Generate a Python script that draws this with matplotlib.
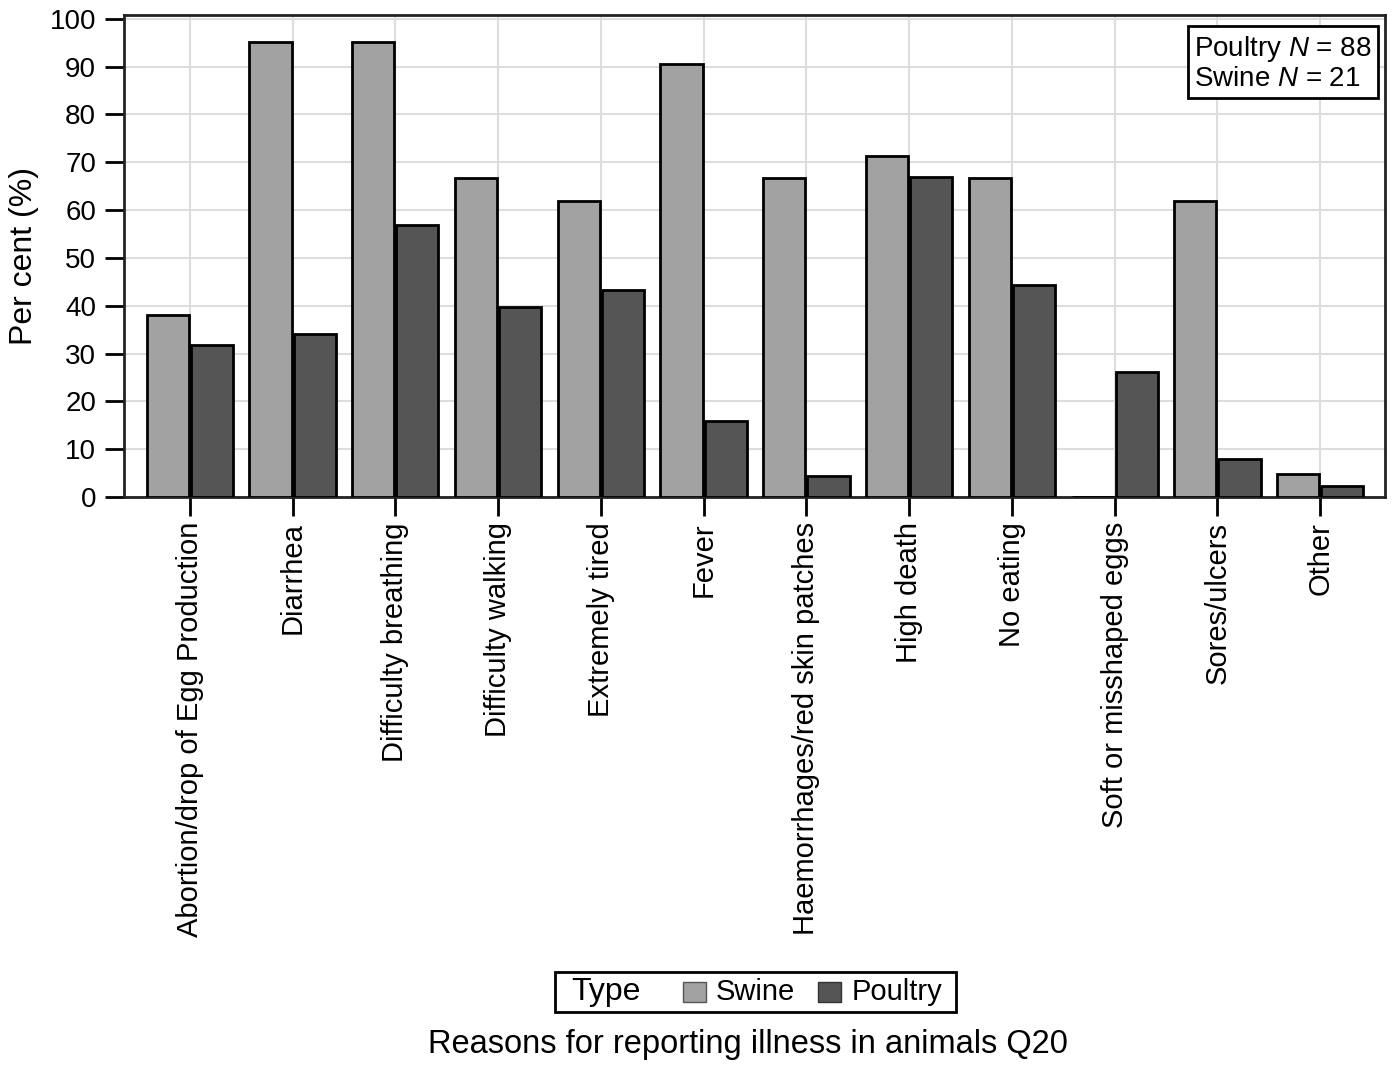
import matplotlib
matplotlib.use("Agg")
import matplotlib.pyplot as plt
import numpy as np
from matplotlib.patches import Rectangle

plt.rcParams['font.family'] = ['Liberation Sans', 'DejaVu Sans']
plt.rcParams['mathtext.fontset'] = 'custom'
plt.rcParams['mathtext.rm'] = 'Liberation Sans'
plt.rcParams['mathtext.it'] = 'Liberation Sans:italic'

categories = ["Abortion/drop of Egg Production", "Diarrhea", "Difficulty breathing",
              "Difficulty walking", "Extremely tired", "Fever",
              "Haemorrhages/red skin patches", "High death", "No eating",
              "Soft or misshaped eggs", "Sores/ulcers", "Other"]
swine = [38.1, 95.2, 95.2, 66.7, 61.9, 90.5, 66.7, 71.4, 66.7, 0.0, 61.9, 4.8]
poultry = [31.8, 34.1, 56.8, 39.8, 43.2, 15.9, 4.5, 67.0, 44.3, 26.1, 8.0, 2.3]
yticks = [0, 10, 20, 30, 40, 50, 60, 70, 80, 90, 100]

SWINE_C = '#a2a2a2'
POULTRY_C = '#555555'

W, H = 1395, 1068
fig = plt.figure(figsize=(W / 100, H / 100), dpi=100)
ax = fig.add_axes([0.0889, 0.5346, 0.9039, 0.4514])

x = np.arange(len(categories))
w = 0.41
ax.bar(x - w/2 - 0.01, swine, width=w, color=SWINE_C, edgecolor='black', linewidth=2, zorder=3)
ax.bar(x + w/2 + 0.01, poultry, width=w, color=POULTRY_C, edgecolor='black', linewidth=2, zorder=3)

ax.set_xlim(-0.64, 11.63)
ax.set_ylim(0, 100.8)
ax.set_yticks(yticks)
ax.set_xticks(x)
ax.set_xticklabels(categories, rotation=90, ha='center', va='top', fontsize=21)
ax.tick_params(axis='y', labelsize=20, length=14, width=2, direction='out', pad=6)
ax.tick_params(axis='x', length=14, width=2, direction='out', pad=4)
ax.grid(True, color='#dddddd', linewidth=1.5, zorder=0)
ax.set_axisbelow(True)
for s in ax.spines.values():
    s.set_linewidth(2)
    s.set_color('#222222')
ax.set_ylabel("Per cent (%)", fontsize=23, labelpad=8)

ax.text(0.9897, 0.9606, "Poultry $N$ = 88\nSwine $N$ = 21", transform=ax.transAxes,
        ha='right', va='top', multialignment='left', fontsize=20, linespacing=1.1,
        bbox=dict(boxstyle='square,pad=0.22', facecolor='white', edgecolor='black', linewidth=2),
        zorder=5)

def fx(px):
    return px / W

def fy(py):
    return (H - py) / H

# legend (manual, in figure pixels)
fig.add_artist(Rectangle((fx(555), fy(1012)), fx(956) - fx(555), fy(972) - fy(1012),
                         transform=fig.transFigure, facecolor='white', edgecolor='black', linewidth=2))
fig.text(fx(571), fy(992), "Type", ha='left', va='center', fontsize=23)
fig.add_artist(Rectangle((fx(683), fy(1002)), fx(706) - fx(683), fy(982) - fy(1002),
                         transform=fig.transFigure, facecolor=SWINE_C, edgecolor='#555555', linewidth=1))
fig.text(fx(716), fy(992), "Swine", ha='left', va='center', fontsize=21)
fig.add_artist(Rectangle((fx(818), fy(1002)), fx(841) - fx(818), fy(982) - fy(1002),
                         transform=fig.transFigure, facecolor=POULTRY_C, edgecolor='#333333', linewidth=1))
fig.text(fx(852), fy(992), "Poultry", ha='left', va='center', fontsize=21)

fig.text(fx(748), fy(1045), "Reasons for reporting illness in animals Q20", ha='center', va='center', fontsize=23.5)

fig.savefig("out.png", dpi=100)
